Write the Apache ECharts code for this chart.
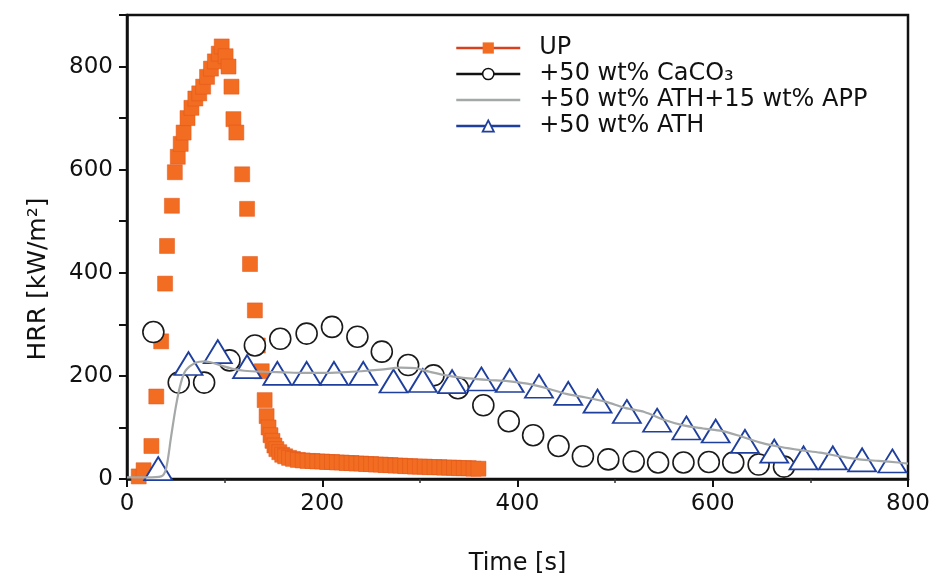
<!DOCTYPE html>
<html>
<head>
<meta charset="utf-8">
<script src="https://cdn.jsdelivr.net/npm/echarts@6/dist/echarts.min.js"></script>
<style>
  html, body { margin: 0; padding: 0; background: #ffffff; }
  #chart { width: 934px; height: 581px; }
</style>
</head>
<body>
<div id="chart"></div>
<script>
// Heat release rate curves (cone calorimeter) for unsaturated polyester and filled variants
const seriesNames = ['UP', '+50 wt% CaCO₃', '+50 wt% ATH+15 wt% APP', '+50 wt% ATH'];

// Neat UP resin
const upTime = [12, 17, 25, 30, 35, 39, 41, 46, 49, 52, 55, 58, 62, 66, 70, 74, 78, 82, 86, 90, 94, 97,
  101, 104, 107, 109, 112, 118, 123, 126, 131, 134, 138, 141, 143, 145, 147, 149, 151, 153, 156, 159,
  162, 166, 170, 175, 180, 185, 190, 195, 200, 205, 210, 215, 220, 225, 230, 235, 240, 245, 250, 255,
  260, 265, 270, 275, 280, 285, 290, 295, 300, 305, 310, 315, 320, 325, 330, 335, 340, 345, 350, 355, 360];
const upHRR = [5, 17, 64, 160, 267, 379, 452, 530, 595, 625, 650, 672, 700, 720, 738, 748, 761, 780, 796, 810, 825, 839,
  820, 800, 761, 698, 672, 591, 524, 417, 327, 259, 209, 153, 122, 100, 85, 74, 65, 58, 52, 47,
  44, 41, 39, 37, 36, 35, 35, 34, 34, 33, 33, 32, 32, 31, 31, 30, 30, 29, 29, 28,
  28, 27, 27, 26, 26, 25, 25, 24, 24, 24, 23, 23, 23, 22, 22, 22, 21, 21, 21, 20, 20];

// +50 wt% CaCO3
const caTime = [27, 53, 79, 105, 131, 157, 184, 210, 236, 261, 288, 314, 339, 365, 391, 416, 442, 467,
  493, 519, 544, 570, 596, 621, 647, 673];
const caHRR = [285, 187, 187, 230, 259, 272, 282, 295, 276, 247, 221, 201, 176, 143, 112, 85, 64, 44,
  38, 34, 32, 32, 33, 32, 28, 24];

// +50 wt% ATH + 15 wt% APP
const appTime = [0, 20, 35, 40, 45, 50, 55, 60, 70, 80, 90, 100, 110, 120, 140, 160, 180, 200, 220, 240,
  260, 280, 295, 310, 330, 350, 370, 390, 410, 430, 450, 470, 490, 510, 530, 550, 570, 590, 610, 630,
  650, 670, 690, 710, 730, 750, 770, 790, 800];
const appHRR = [3, 3, 5, 20, 80, 140, 185, 210, 225, 228, 224, 218, 213, 210, 208, 207, 206, 206, 207, 209,
  212, 216, 215, 208, 200, 195, 192, 190, 185, 176, 165, 158, 150, 138, 130, 115, 104, 98, 93, 82,
  70, 62, 56, 51, 44, 38, 35, 32, 30];

// +50 wt% ATH
const athTime = [32, 63, 93, 123, 154, 184, 212, 242, 273, 303, 333, 363, 392, 422, 452, 482, 512, 543,
  573, 603, 633, 663, 693, 723, 753, 784];
const athHRR = [20, 224, 247, 218, 205, 205, 205, 205, 190, 191, 189, 194, 191, 180, 166, 151, 131, 114,
  99, 93, 73, 54, 41, 41, 37, 35];

// Axis ticks
const xTicks = [0, 200, 400, 600, 800];
const yTicks = [0, 200, 400, 600, 800];

const pairs = (t, v) => t.map((x, i) => [x, v[i]]);

const FONT = 'DejaVu Sans';
const chart = echarts.init(document.getElementById('chart'), null, { renderer: 'canvas' });

chart.setOption({
  animation: false,
  backgroundColor: '#ffffff',
  grid: {
    left: 127, right: 26, top: 15, bottom: 100,
    show: true, borderColor: '#111', borderWidth: 2.5, backgroundColor: 'transparent'
  },
  legend: {
    left: 450, top: 31, orient: 'vertical', align: 'left',
    itemWidth: 64, itemHeight: 14, itemGap: 2,
    textStyle: { fontFamily: FONT, fontSize: 24, color: '#111', lineHeight: 20, padding: [0, 0, 0, 14] },
    data: [
      { name: seriesNames[0], lineStyle: { color: '#d8401e', width: 2.5, opacity: 1 },
        itemStyle: { color: '#f26d21', borderWidth: 0 } },
      { name: seriesNames[1], lineStyle: { color: '#111', width: 2.5, opacity: 1 },
        itemStyle: { color: '#fff', borderColor: '#111', borderWidth: 1.5 } },
      { name: seriesNames[2], lineStyle: { color: '#a4a8a8', width: 2.5, opacity: 1 },
        itemStyle: { opacity: 0 } },
      { name: seriesNames[3], lineStyle: { color: '#1f3f9e', width: 2.5, opacity: 1 },
        itemStyle: { color: '#fff', borderColor: '#1f3f9e', borderWidth: 1.8 } }
    ]
  },
  xAxis: {
    type: 'value', min: 0, max: 800, interval: 200,
    name: 'Time [s]', nameLocation: 'middle', nameGap: 73,
    nameTextStyle: { fontFamily: FONT, fontSize: 24, color: '#111' },
    axisLine: { show: true, onZero: false, lineStyle: { color: '#111', width: 2.5 } },
    axisTick: { show: true, inside: false, length: 8, lineStyle: { color: '#111', width: 2 } },
    minorTick: { show: true, splitNumber: 2, length: 4, lineStyle: { color: '#333', width: 1.5 } },
    axisLabel: {
      fontFamily: FONT, fontSize: 23, color: '#111', margin: 14,
      formatter: v => (xTicks.includes(v) ? String(v) : '')
    },
    splitLine: { show: false }
  },
  yAxis: {
    type: 'value', min: 0, max: 900, interval: 100,
    name: 'HRR [kW/m²]', nameLocation: 'middle', nameGap: 76, nameRotate: 90,
    nameTextStyle: { fontFamily: FONT, fontSize: 25, color: '#111', padding: [0, 64, 0, 0] },
    axisLine: { show: true, onZero: false, lineStyle: { color: '#111', width: 2.5 } },
    axisTick: { show: true, inside: false, length: 8, lineStyle: { color: '#111', width: 2 } },
    axisLabel: {
      fontFamily: FONT, fontSize: 23, color: '#111', margin: 14,
      formatter: v => (yTicks.includes(v) ? String(v) : '')
    },
    splitLine: { show: false }
  },
  series: [
    {
      name: seriesNames[0], type: 'line', data: pairs(upTime, upHRR), z: 2,
      symbol: 'rect', symbolSize: 15, showSymbol: true,
      lineStyle: { opacity: 0 },
      itemStyle: { color: '#f26d21', borderColor: '#e0551a', borderWidth: 0.5 }
    },
    {
      name: seriesNames[1], type: 'line', data: pairs(caTime, caHRR), z: 3,
      symbol: 'circle', symbolSize: 21, showSymbol: true,
      lineStyle: { opacity: 0 },
      itemStyle: { color: '#ffffff', borderColor: '#1a1a1a', borderWidth: 1.6 }
    },
    {
      name: seriesNames[2], type: 'line', data: pairs(appTime, appHRR), z: 5,
      symbol: 'none', smooth: 0.3,
      lineStyle: { color: '#a4a8a8', width: 2.2 },
      itemStyle: { color: '#a4a8a8' }
    },
    {
      name: seriesNames[3], type: 'line', data: pairs(athTime, athHRR), z: 4,
      symbol: 'triangle', symbolSize: [28, 23], showSymbol: true,
      lineStyle: { opacity: 0 },
      itemStyle: { color: '#ffffff', borderColor: '#1f3f9e', borderWidth: 1.8 }
    }
  ]
});
</script>
</body>
</html>
